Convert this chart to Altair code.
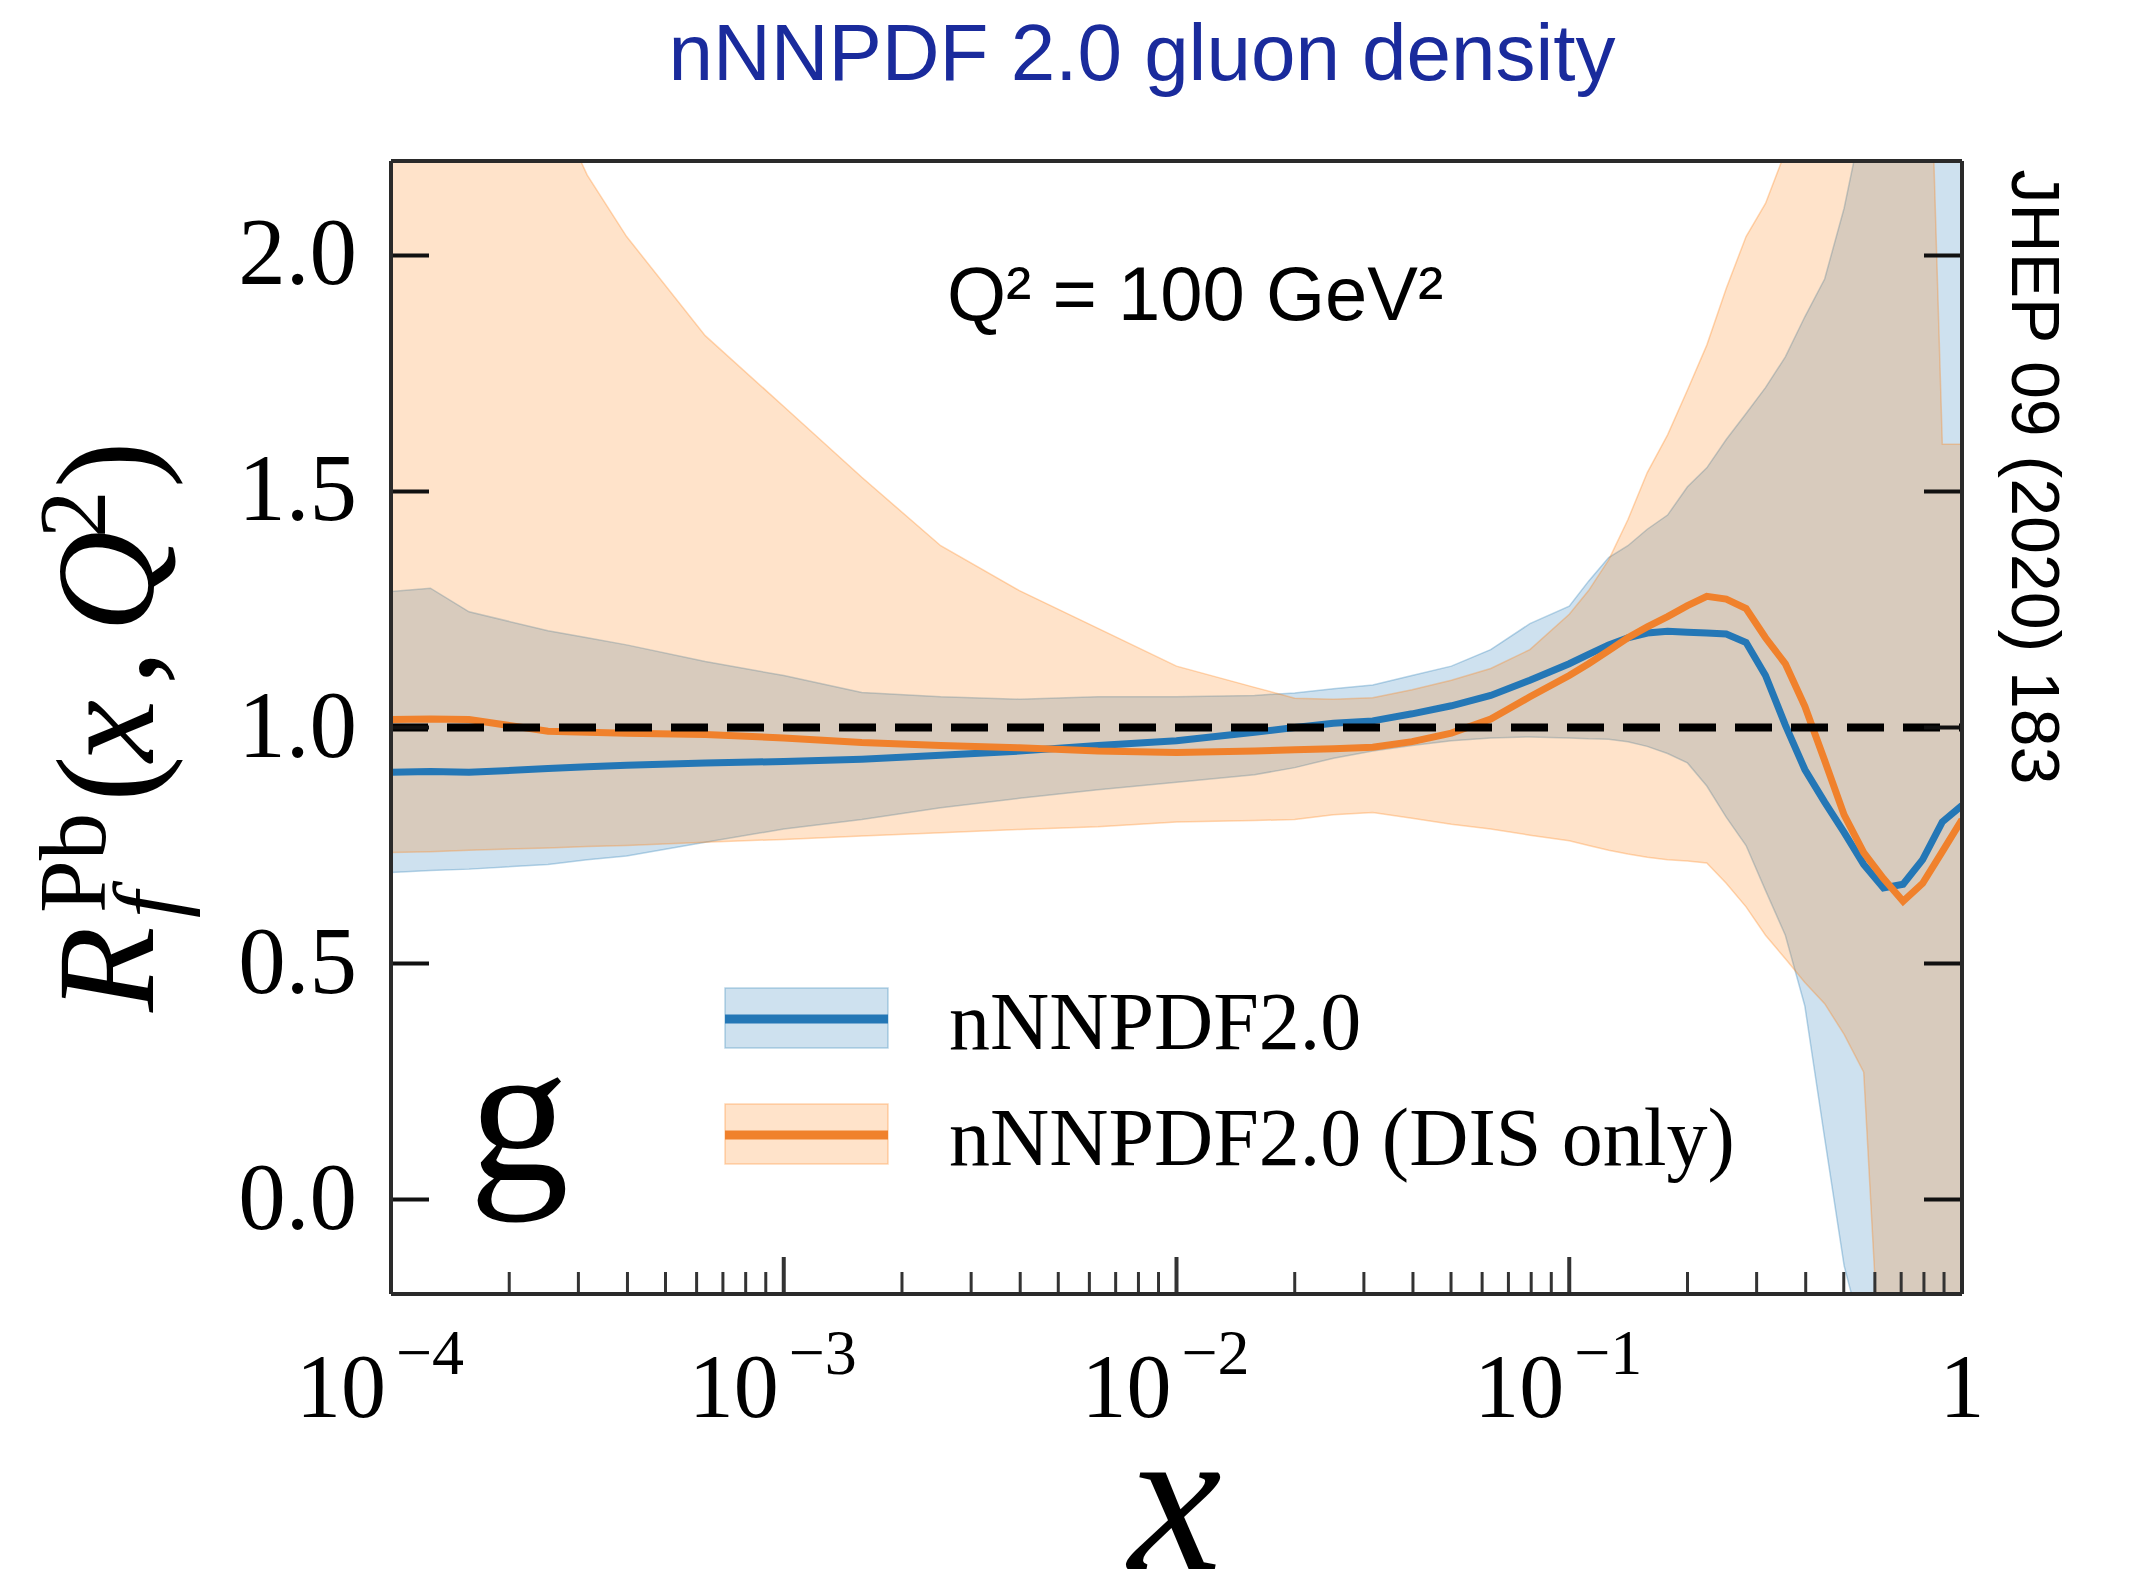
import altair as alt
import pandas as pd

# ---------------------------------------------------------------------------
# Gluon nuclear modification ratio R_f^Pb(x, Q^2) at Q^2 = 100 GeV^2
# ---------------------------------------------------------------------------
X = [1.0e-4, 1.26e-4, 1.58e-4, 2.51e-4, 3.16e-4, 3.98e-4, 6.31e-4, 1.0e-3,
     1.58e-3, 2.51e-3, 3.98e-3, 6.31e-3, 1.0e-2, 1.58e-2, 2.0e-2, 2.51e-2,
     3.16e-2, 3.98e-2, 5.01e-2, 6.31e-2, 7.94e-2, 0.1, 0.112, 0.126, 0.141,
     0.158, 0.178, 0.2, 0.224, 0.251, 0.282, 0.316, 0.355, 0.398, 0.447,
     0.501, 0.562, 0.631, 0.708, 0.794, 0.891, 1.0]

# nNNPDF2.0 (global fit): central value and uncertainty band
BLUE_CV = [0.905, 0.907, 0.905, 0.913, 0.917, 0.920, 0.925, 0.928, 0.933, 0.941,
           0.950, 0.962, 0.972, 0.990, 1.000, 1.009, 1.014, 1.029, 1.046, 1.068,
           1.100, 1.135, 1.155, 1.175, 1.190, 1.200, 1.204, 1.202, 1.200, 1.198,
           1.180, 1.110, 1.005, 0.911, 0.842, 0.778, 0.710, 0.660, 0.668, 0.720,
           0.800, 0.835]
BLUE_LO = [0.693, 0.697, 0.700, 0.710, 0.720, 0.728, 0.757, 0.785, 0.805, 0.830,
           0.850, 0.868, 0.884, 0.900, 0.915, 0.935, 0.950, 0.962, 0.972, 0.978,
           0.980, 0.978, 0.976, 0.975, 0.970, 0.960, 0.945, 0.925, 0.876, 0.810,
           0.750, 0.655, 0.560, 0.410, 0.130, -0.140, -0.300, -0.600, -1.0, -1.0,
           -1.0, -1.0]
BLUE_HI = [1.288, 1.295, 1.245, 1.205, 1.190, 1.175, 1.140, 1.110, 1.074, 1.065,
           1.060, 1.065, 1.065, 1.068, 1.073, 1.082, 1.090, 1.110, 1.130, 1.165,
           1.220, 1.257, 1.310, 1.360, 1.385, 1.420, 1.450, 1.510, 1.550, 1.610,
           1.665, 1.720, 1.785, 1.870, 1.950, 2.100, 2.300, 2.600, 3.0, 3.0,
           3.0, 3.0]

# nNNPDF2.0 (DIS only): central value and uncertainty band
ORANGE_CV = [1.017, 1.018, 1.017, 0.992, 0.990, 0.988, 0.985, 0.978, 0.968, 0.962,
             0.957, 0.950, 0.947, 0.950, 0.953, 0.955, 0.958, 0.970, 0.988, 1.018,
             1.065, 1.110, 1.135, 1.163, 1.190, 1.213, 1.235, 1.258, 1.278, 1.272,
             1.252, 1.190, 1.135, 1.045, 0.930, 0.815, 0.735, 0.680, 0.632, 0.670,
             0.737, 0.805]
ORANGE_LO = [0.735, 0.737, 0.740, 0.745, 0.748, 0.750, 0.757, 0.763, 0.770, 0.777,
             0.784, 0.790, 0.800, 0.803, 0.805, 0.815, 0.820, 0.808, 0.795, 0.785,
             0.772, 0.760, 0.750, 0.740, 0.732, 0.725, 0.720, 0.717, 0.713, 0.670,
             0.620, 0.560, 0.510, 0.460, 0.415, 0.350, 0.270, -0.500, -1.0, -1.0,
             -1.0, -1.0]
ORANGE_HI = [3.0, 3.0, 2.8, 2.35, 2.17, 2.04, 1.83, 1.68, 1.53, 1.385,
             1.29, 1.21, 1.13, 1.085, 1.062, 1.060, 1.063, 1.080, 1.100, 1.125,
             1.165, 1.240, 1.290, 1.355, 1.440, 1.540, 1.620, 1.715, 1.810, 1.930,
             2.040, 2.110, 2.220, 2.400, 3.0, 3.0, 3.0, 3.0, 3.0, 3.0,
             1.60, 1.60]

REFERENCE = [1.0]

# Axis ticks and labels
Y_TICKS = [0.0, 0.5, 1.0, 1.5, 2.0]
Y_LABELS = ["0.0", "0.5", "1.0", "1.5", "2.0"]
X_DECADES = [1e-4, 1e-3, 1e-2, 1e-1]
X_EXPONENTS = ["\u22124", "\u22123", "\u22122", "\u22121"]
X_MAJOR = [1e-4, 1e-3, 1e-2, 1e-1, 1.0]
X_MINOR = [m * 10.0 ** e for e in (-4, -3, -2, -1) for m in range(2, 10)]

SERIES = ["nNNPDF2.0", "nNNPDF2.0 (DIS only)"]

# ---------------------------------------------------------------------------
W, H = 1571, 1133
BLUE, ORANGE = "#1f77b4", "#ff7f0e"
BLUE_LINE, ORANGE_LINE = "#2477b6", "#f0812c"
SERIF, SANS = "Liberation Serif", "Liberation Sans"
BAND_ALPHA = 0.22

df = pd.DataFrame({"x": X, "b": BLUE_CV, "bl": BLUE_LO, "bh": BLUE_HI,
                   "o": ORANGE_CV, "ol": ORANGE_LO, "oh": ORANGE_HI})

xs = alt.Scale(type="log", domain=[1e-4, 1.0], nice=False)
ys = alt.Scale(domain=[-0.2, 2.2], nice=False, zero=False)


def xe(field="x"):
    return alt.X(f"{field}:Q", scale=xs, axis=None)


def ye(field):
    return alt.Y(f"{field}:Q", scale=ys, axis=None)


def band(lo, hi, color):
    return alt.Chart(df).mark_area(
        clip=True, color=color, fillOpacity=BAND_ALPHA, stroke=color,
        strokeOpacity=0.3, strokeWidth=1.5
    ).encode(x=xe(), y=ye(lo), y2=alt.Y2(f"{hi}:Q"))


def curve(field, color):
    return alt.Chart(df).mark_line(clip=True, color=color, strokeWidth=7).encode(
        x=xe(), y=ye(field))


def text(t, x, y, size, font=SERIF, angle=0, align="left",
         baseline="alphabetic", style="normal", color="black"):
    return alt.Chart(alt.Data(values=[{"t": t}])).mark_text(
        font=font, fontSize=size, angle=angle, align=align, baseline=baseline,
        fontStyle=style, color=color
    ).encode(x=alt.value(x), y=alt.value(y), text="t:N")


def one():
    return alt.Chart(alt.Data(values=[{"k": 0}]))


layers = [
    band("bl", "bh", BLUE),
    band("ol", "oh", ORANGE),
    curve("b", BLUE_LINE),
    curve("o", ORANGE_LINE),
]

# dashed reference line at R = 1
layers.append(
    alt.Chart(pd.DataFrame({"v": REFERENCE})).mark_rule(
        color="black", strokeWidth=8, strokeDash=[37, 19]
    ).encode(y=ye("v"), x=alt.value(0), x2=alt.value(W))
)

# inward ticks on the left, right and bottom
ytick_df = pd.DataFrame({"v": Y_TICKS, "t": Y_LABELS})
for x0, x1 in ((0, 38), (W - 38, W)):
    layers.append(
        alt.Chart(ytick_df).mark_rule(color="#111", strokeWidth=4).encode(
            y=ye("v"), x=alt.value(x0), x2=alt.value(x1))
    )
layers.append(
    alt.Chart(pd.DataFrame({"v": X_MAJOR})).mark_rule(color="#333", strokeWidth=4).encode(
        x=xe("v"), y=alt.value(H), y2=alt.value(H - 37))
)
layers.append(
    alt.Chart(pd.DataFrame({"v": X_MINOR})).mark_rule(color="#333", strokeWidth=3).encode(
        x=xe("v"), y=alt.value(H), y2=alt.value(H - 22))
)

# frame
frame = one().mark_rule(color="#2a2a2a", strokeWidth=4)
layers += [
    frame.encode(x=alt.value(0), x2=alt.value(W), y=alt.value(0)),
    frame.encode(x=alt.value(0), x2=alt.value(W), y=alt.value(H)),
    frame.encode(x=alt.value(0), y=alt.value(0), y2=alt.value(H)),
    frame.encode(x=alt.value(W), y=alt.value(0), y2=alt.value(H)),
]

# tick labels
layers.append(
    alt.Chart(ytick_df).mark_text(font=SERIF, fontSize=95, align="right",
                                  baseline="middle", color="black").encode(
        y=ye("v"), x=alt.value(-34), text="t:N")
)
xlab_df = pd.DataFrame({"v": X_DECADES, "e": X_EXPONENTS, "b": ["10"] * len(X_DECADES)})
layers.append(
    alt.Chart(xlab_df).mark_text(font=SERIF, fontSize=90, align="right",
                                 dx=-5, color="black").encode(
        x=xe("v"), y=alt.value(1229), text="b:N")
)
layers.append(
    alt.Chart(xlab_df).mark_text(font=SERIF, fontSize=64, align="left",
                                 dx=5, color="black").encode(
        x=xe("v"), y=alt.value(1194), text="e:N")
)
layers.append(
    alt.Chart(pd.DataFrame({"v": [1.0], "t": ["1"]})).mark_text(
        font=SERIF, fontSize=90, align="center", color="black").encode(
        x=xe("v"), y=alt.value(1229), text="t:N")
)

# axis titles
layers.append(text("x", 784, 1408, 210, style="italic", align="center"))
ytitle = [
    ("R", -238, 851, 140, "italic"),
    ("Pb", -286, 752, 95, "normal"),
    ("f", -211, 757, 95, "italic"),
    ("(", -238, 641, 140, "normal"),
    ("x", -238, 601, 140, "italic"),
    (",", -238, 524, 140, "normal"),
    ("Q", -238, 471, 140, "italic"),
    ("2", -286, 377, 95, "normal"),
    (")", -238, 327, 140, "normal"),
]
for t, x, y, s, st in ytitle:
    layers.append(text(t, x, y, s, angle=270, style=st))

# legend
for i, (name, col, lcol) in enumerate(zip(SERIES, (BLUE, ORANGE), (BLUE_LINE, ORANGE_LINE))):
    top = 827 + i * 116
    layers.append(
        one().mark_rect(color=col, fillOpacity=BAND_ALPHA, stroke=col,
                        strokeOpacity=0.3, strokeWidth=1.5).encode(
            x=alt.value(334), x2=alt.value(497), y=alt.value(top), y2=alt.value(top + 60))
    )
    layers.append(
        one().mark_rule(color=lcol, strokeWidth=9).encode(
            x=alt.value(334), x2=alt.value(497), y=alt.value(top + 31))
    )
    layers.append(text(name, 558, top + 61, 82))

# annotations
layers.append(text("g", 78, 1019, 200))
layers.append(text("Q\u00b2 = 100 GeV\u00b2", 556, 159, 76, font=SANS))
layers.append(text("nNNPDF 2.0 gluon density", 751, -81, 80, font=SANS,
                   align="center", color="#1a2b9c"))
layers.append(text("JHEP 09 (2020) 183", 1621, 316, 68, font=SANS, angle=90,
                   align="center"))

chart = alt.layer(*layers).properties(
    width=W, height=H,
    autosize=alt.AutoSizeParams(type="none"),
    padding={"left": 391, "top": 161, "right": 175, "bottom": 296},
    background="white",
).configure_view(stroke=None)

chart.save("out.html", embed_options={"renderer": "svg", "actions": False})
